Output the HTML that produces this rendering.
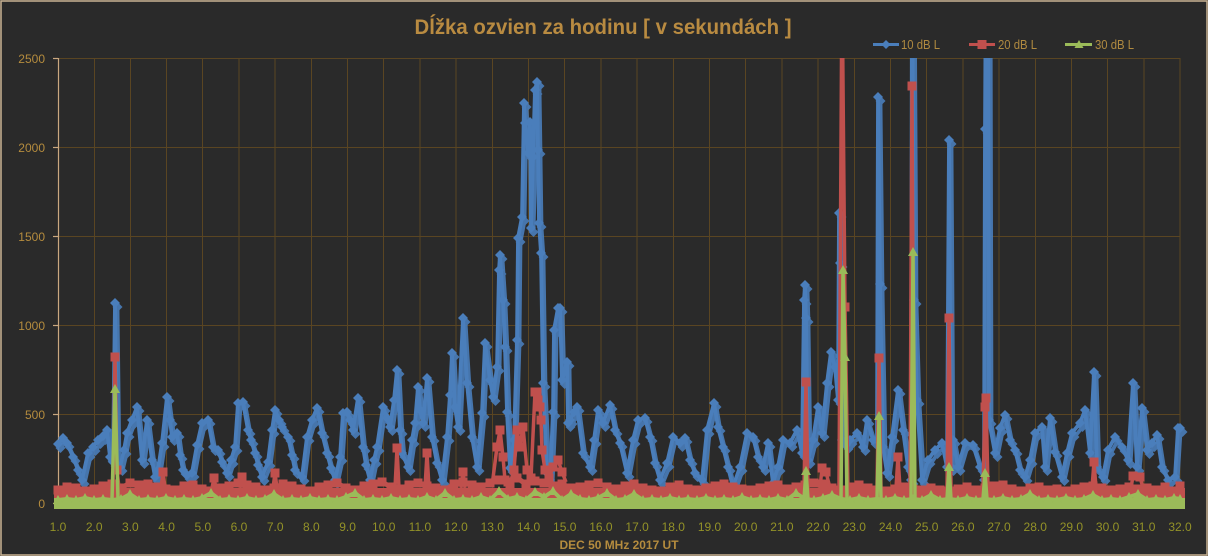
<!DOCTYPE html>
<html>
<head>
<meta charset="utf-8">
<style>
html,body{margin:0;padding:0;background:#2a2a2a;}
svg{display:block;}
text{font-family:"Liberation Sans",sans-serif;}
</style>
</head>
<body>
<svg width="1208" height="556" viewBox="0 0 1208 556" xmlns="http://www.w3.org/2000/svg">
<defs>
<clipPath id="cp"><rect x="0" y="58" width="1208" height="458"/></clipPath>
<marker id="mb" markerUnits="userSpaceOnUse" markerWidth="10" markerHeight="10" refX="5" refY="5" overflow="visible"><path d="M5,0 L10,5 5,10 0,5z" fill="#4a7ebb"/></marker>
<marker id="mr" markerUnits="userSpaceOnUse" markerWidth="10" markerHeight="10" refX="5" refY="5" overflow="visible"><rect x="0.5" y="0.5" width="9" height="9" fill="#c0504d"/></marker>
<marker id="mg" markerUnits="userSpaceOnUse" markerWidth="10" markerHeight="10" refX="5" refY="5" overflow="visible"><path d="M5,0 L10,9 0,9z" fill="#9bbb59"/></marker>
<polyline id="bl" fill="none" stroke="#4a7ebb" stroke-width="3.8" stroke-linejoin="round" marker-start="url(#mb)" marker-mid="url(#mb)" marker-end="url(#mb)" points="58,444 63,438 67,443 73,457 78,470 82,480 88,453 93,447 98,440 103,436 107,430 110,457 113,462 115,303 117,465 120,467 124,450 127,433 132,420 137,407 142,460 147,420 152,460 155,477 158,470 162,443 167,397 170,420 172,437 177,433 180,455 183,470 187,475 192,473 197,445 202,423 208,420 213,447 218,450 222,462 227,473 231,460 235,447 238,403 243,402 248,430 251,440 255,453 258,465 262,477 268,462 272,430 275,410 279,420 282,427 288,437 292,455 295,470 302,477 307,437 312,420 317,408 322,433 327,453 331,468 335,480 340,457 343,413 347,412 350,420 353,430 358,398 363,447 366,465 370,480 374,460 377,447 383,407 387,418 390,427 394,400 397,370 400,430 402,453 408,467 412,440 415,423 418,387 420,410 423,423 427,378 432,437 437,463 442,480 447,437 450,395 452,353 455,407 458,427 463,318 467,383 472,437 477,467 482,413 485,343 490,380 493,397 497,367 499,270 500,255 503,300 505,347 507,412 510,468 514,440 517,340 518,238 522,217 524,103 525,123 528,153 530,122 531,228 533,157 535,90 537,82 538,150 539,223 541,253 543,383 547,473 550,480 553,412 554,330 558,308 560,308 562,380 567,362 568,423 570,420 574,412 577,407 583,453 590,467 594,440 598,410 603,423 610,405 615,430 620,443 627,473 633,440 638,420 645,418 650,437 655,463 660,480 667,463 673,437 680,443 685,438 690,460 695,473 702,480 707,430 714,403 718,427 723,447 728,467 733,487 740,467 747,433 753,437 758,457 763,467 768,443 773,483 778,467 783,440 790,443 797,430 802,453 804,300 805,285 806,318 808,460 813,440 818,407 822,433 827,383 831,352 835,367 838,400 839,213 840,263 842,440 846,445 850,440 857,433 863,447 867,420 873,440 877,440 878,97 880,284 883,447 887,473 892,437 898,390 903,430 908,467 911,480 912,-50 914,300 917,400 922,480 928,460 935,450 942,443 947,467 949,140 951,467 953,440 958,467 965,443 973,445 980,467 984,480 985,129 986,-50 988,-50 989,420 995,453 1000,428 1005,415 1010,440 1015,450 1020,470 1025,477 1030,460 1035,433 1042,427 1045,467 1050,418 1055,452 1062,477 1067,453 1072,433 1080,423 1085,410 1090,453 1094,372 1097,467 1103,477 1108,450 1115,437 1122,447 1128,460 1133,383 1137,467 1142,408 1147,450 1152,443 1157,435 1162,467 1168,480 1175,477 1178,428 1180,428"/>
</defs>
<rect x="0" y="0" width="1208" height="556" fill="#2a2a2a"/>
<rect x="1" y="1" width="1206" height="554" fill="none" stroke="#c9b393" stroke-width="1.5"/>

<!-- title -->
<text x="603" y="34" font-size="21" font-weight="bold" fill="#b98b41" text-anchor="middle" textLength="377" lengthAdjust="spacingAndGlyphs">Dĺžka ozvien za hodinu [ v sekundách ]</text>

<!-- legend -->
<line x1="873" y1="44.5" x2="899" y2="44.5" stroke="#4a7ebb" stroke-width="3"/>
<path d="M886,40 L890.5,44.5 886,49 881.5,44.5z" fill="#4a7ebb"/>
<text x="901" y="49" font-size="13" fill="#b08a40" textLength="39" lengthAdjust="spacingAndGlyphs">10 dB L</text>
<line x1="969" y1="44.5" x2="995" y2="44.5" stroke="#c0504d" stroke-width="3"/>
<rect x="977.5" y="40" width="9" height="9" fill="#c0504d"/>
<text x="998" y="49" font-size="13" fill="#b08a40" textLength="39" lengthAdjust="spacingAndGlyphs">20 dB L</text>
<line x1="1065" y1="44.5" x2="1092" y2="44.5" stroke="#9bbb59" stroke-width="3"/>
<path d="M1079,40 L1083.5,48 1074.5,48z" fill="#9bbb59"/>
<text x="1095" y="49" font-size="13" fill="#b08a40" textLength="39" lengthAdjust="spacingAndGlyphs">30 dB L</text>

<!-- gridlines -->
<g stroke="#5a4522" stroke-width="1">
<line x1="58" y1="58.5" x2="1180" y2="58.5"/>
<line x1="58" y1="147.5" x2="1180" y2="147.5"/>
<line x1="58" y1="236.5" x2="1180" y2="236.5"/>
<line x1="58" y1="325.5" x2="1180" y2="325.5"/>
<line x1="58" y1="414.5" x2="1180" y2="414.5"/>
<line x1="94.5" y1="58" x2="94.5" y2="503"/>
<line x1="130.5" y1="58" x2="130.5" y2="503"/>
<line x1="166.5" y1="58" x2="166.5" y2="503"/>
<line x1="202.5" y1="58" x2="202.5" y2="503"/>
<line x1="239" y1="58" x2="239" y2="503"/>
<line x1="275" y1="58" x2="275" y2="503"/>
<line x1="311.5" y1="58" x2="311.5" y2="503"/>
<line x1="347.5" y1="58" x2="347.5" y2="503"/>
<line x1="383.5" y1="58" x2="383.5" y2="503"/>
<line x1="420" y1="58" x2="420" y2="503"/>
<line x1="456" y1="58" x2="456" y2="503"/>
<line x1="492.5" y1="58" x2="492.5" y2="503"/>
<line x1="528.5" y1="58" x2="528.5" y2="503"/>
<line x1="564.5" y1="58" x2="564.5" y2="503"/>
<line x1="601" y1="58" x2="601" y2="503"/>
<line x1="637" y1="58" x2="637" y2="503"/>
<line x1="673.5" y1="58" x2="673.5" y2="503"/>
<line x1="709.5" y1="58" x2="709.5" y2="503"/>
<line x1="745.5" y1="58" x2="745.5" y2="503"/>
<line x1="782" y1="58" x2="782" y2="503"/>
<line x1="818" y1="58" x2="818" y2="503"/>
<line x1="854.5" y1="58" x2="854.5" y2="503"/>
<line x1="890.5" y1="58" x2="890.5" y2="503"/>
<line x1="926.5" y1="58" x2="926.5" y2="503"/>
<line x1="963" y1="58" x2="963" y2="503"/>
<line x1="999" y1="58" x2="999" y2="503"/>
<line x1="1035.5" y1="58" x2="1035.5" y2="503"/>
<line x1="1071.5" y1="58" x2="1071.5" y2="503"/>
<line x1="1107.5" y1="58" x2="1107.5" y2="503"/>
<line x1="1144" y1="58" x2="1144" y2="503"/>
<line x1="1180" y1="58" x2="1180" y2="503"/>
</g>

<!-- axes -->
<g stroke="#c9a77f" stroke-width="1.2">
<line x1="58.5" y1="58" x2="58.5" y2="504"/>
<line x1="53" y1="58.5" x2="58" y2="58.5"/>
<line x1="53" y1="147.5" x2="58" y2="147.5"/>
<line x1="53" y1="236.5" x2="58" y2="236.5"/>
<line x1="53" y1="325.5" x2="58" y2="325.5"/>
<line x1="53" y1="414.5" x2="58" y2="414.5"/>
<line x1="53" y1="503.5" x2="1180" y2="503.5"/>
</g>

<!-- y labels -->
<g font-size="12" fill="#b58c3e" text-anchor="end">
<text x="45" y="63">2500</text>
<text x="45" y="152">2000</text>
<text x="45" y="241">1500</text>
<text x="45" y="330">1000</text>
<text x="45" y="419">500</text>
<text x="45" y="508">0</text>
</g>

<!-- x labels -->
<g font-size="12" fill="#939228" text-anchor="middle">
<text x="58" y="531">1.0</text>
<text x="94.2" y="531">2.0</text>
<text x="130.4" y="531">3.0</text>
<text x="166.6" y="531">4.0</text>
<text x="202.8" y="531">5.0</text>
<text x="239" y="531">6.0</text>
<text x="275.2" y="531">7.0</text>
<text x="311.4" y="531">8.0</text>
<text x="347.6" y="531">9.0</text>
<text x="383.7" y="531">10.0</text>
<text x="419.9" y="531">11.0</text>
<text x="456.1" y="531">12.0</text>
<text x="492.3" y="531">13.0</text>
<text x="528.5" y="531">14.0</text>
<text x="564.7" y="531">15.0</text>
<text x="600.9" y="531">16.0</text>
<text x="637.1" y="531">17.0</text>
<text x="673.3" y="531">18.0</text>
<text x="709.5" y="531">19.0</text>
<text x="745.7" y="531">20.0</text>
<text x="781.9" y="531">21.0</text>
<text x="818.1" y="531">22.0</text>
<text x="854.3" y="531">23.0</text>
<text x="890.5" y="531">24.0</text>
<text x="926.7" y="531">25.0</text>
<text x="962.9" y="531">26.0</text>
<text x="999" y="531">27.0</text>
<text x="1035.2" y="531">28.0</text>
<text x="1071.4" y="531">29.0</text>
<text x="1107.6" y="531">30.0</text>
<text x="1143.8" y="531">31.0</text>
<text x="1180" y="531">32.0</text>
</g>

<text x="619" y="549" font-size="12" font-weight="bold" fill="#b58c3e" text-anchor="middle" textLength="119" lengthAdjust="spacingAndGlyphs">DEC 50 MHz  2017  UT</text>

<g clip-path="url(#cp)">
<!-- blue series (doubled for density) -->
<use href="#bl" transform="translate(2.5,4)" opacity="0.9"/>
<use href="#bl"/>

<!-- red series -->
<rect x="54" y="488" width="1131" height="14" fill="#c0504d"/>
<polyline fill="none" stroke="#c0504d" stroke-width="5" stroke-linejoin="round" marker-start="url(#mr)" marker-mid="url(#mr)" marker-end="url(#mr)" points="58,490 67,487 76,488 85,491 94,489 103,486 112,484 121,488 130,483 139,485 148,484 157,487 166,489 175,490 184,486 193,485 202,489 211,491 220,488 229,486 238,483 247,485 256,487 265,490 274,488 283,484 292,486 301,489 310,491 319,487 328,485 337,483 346,488 355,490 364,486 373,484 382,482 391,487 400,489 409,485 418,483 427,486 436,488 445,490 454,484 463,482 472,485 481,487 490,483 499,480 508,482 517,478 526,484 535,481 544,483 553,486 562,484 571,488 580,487 589,485 598,483 607,487 616,489 625,486 634,484 643,488 652,490 661,491 670,487 679,485 688,489 697,490 706,488 715,486 724,484 733,487 742,489 751,490 760,488 769,486 778,485 787,489 796,487 805,485 814,483 823,484 832,488 841,490 850,487 859,485 868,488 877,490 886,491 895,489 904,487 913,489 922,490 931,488 940,490 949,491 958,489 967,487 976,490 985,488 994,486 1003,485 1012,489 1021,491 1030,488 1039,487 1048,490 1057,489 1066,491 1075,489 1084,487 1093,486 1102,488 1111,490 1120,489 1129,487 1138,489 1147,488 1156,490 1165,487 1174,491 1180,486"/>
<g fill="none" stroke="#c0504d" stroke-width="3.5" stroke-linejoin="round" marker-mid="url(#mr)">
<polyline points="113,488 115,357 117,470 119,488"/>
<polyline points="161,488 163,472 165,488"/>
<polyline points="212,488 214,478 216,488"/>
<polyline points="240,488 242,477 244,488"/>
<polyline points="273,488 275,473 277,488"/>
<polyline points="395,488 397,448 399,488"/>
<polyline points="425,488 427,453 429,488"/>
<polyline points="461,488 463,472 465,488"/>
<polyline points="492,486 497,447 500,430 503,457 505,480 510,484 514,470 517,430 520,447 523,427 527,470 531,478 535,392 537,392 538,400 540,407 541,420 542,450 545,470 549,478 553,467 558,460 562,472 566,482"/>
<polyline points="804,488 806,382 808,488"/>
<polyline points="820,488 822,468 826,472 830,488"/>
<polyline points="839,488 842,-30 845,307 848,488"/>
<polyline points="877,488 879,358 881,488"/>
<polyline points="896,488 898,457 900,488"/>
<polyline points="910,488 912,86 914,488"/>
<polyline points="947,488 949,318 951,488"/>
<polyline points="983,488 985,407 986,398 988,488"/>
<polyline points="1092,488 1094,462 1096,488"/>
<polyline points="1131,488 1133,476 1140,477 1143,488"/>
</g>

<!-- green series -->
<rect x="54" y="498" width="1131" height="11" fill="#9bbb59"/>
<polyline fill="none" stroke="#9bbb59" stroke-width="4" stroke-linejoin="round" marker-start="url(#mg)" marker-mid="url(#mg)" marker-end="url(#mg)" points="58,500 67,499 76,500 85,498 94,500 103,499 112,500 121,499 130,494 139,500 148,499 157,500 166,498 175,500 184,499 193,500 202,498 211,493 220,500 229,499 238,500 247,498 256,500 265,499 274,494 283,500 292,499 301,500 310,498 319,500 328,499 337,500 346,497 355,493 364,500 373,499 382,500 391,498 400,500 409,499 418,500 427,497 436,500 445,493 454,500 463,499 472,500 481,497 490,500 499,491 508,499 517,497 526,500 535,492 544,497 553,491 562,500 571,494 580,499 589,500 598,498 607,493 616,500 625,499 634,494 643,500 652,499 661,500 670,498 679,500 688,499 697,500 706,498 715,500 724,499 733,500 742,497 751,500 760,499 769,500 778,498 787,500 796,493 805,499 814,500 823,498 832,495 841,499 850,500 859,498 868,500 877,499 886,500 895,498 904,500 913,499 922,500 931,495 940,500 949,499 958,500 967,498 976,500 985,499 994,500 1003,498 1012,500 1021,499 1030,494 1039,500 1048,499 1057,500 1066,498 1075,500 1084,499 1093,495 1102,500 1111,499 1120,500 1129,497 1138,494 1147,500 1156,499 1165,500 1174,498 1180,499"/>
<g fill="none" stroke="#9bbb59" stroke-width="3.5" stroke-linejoin="round" marker-mid="url(#mg)">
<polyline points="112,499 115,389 118,499"/>
<polyline points="804,499 806,471 808,499"/>
<polyline points="841,499 843,270 845,357 847,499"/>
<polyline points="877,499 879,416 881,499"/>
<polyline points="911,499 913,252 915,499"/>
<polyline points="947,499 949,467 951,499"/>
<polyline points="983,499 985,473 987,499"/>
</g>
</g>
</svg>
</body>
</html>
